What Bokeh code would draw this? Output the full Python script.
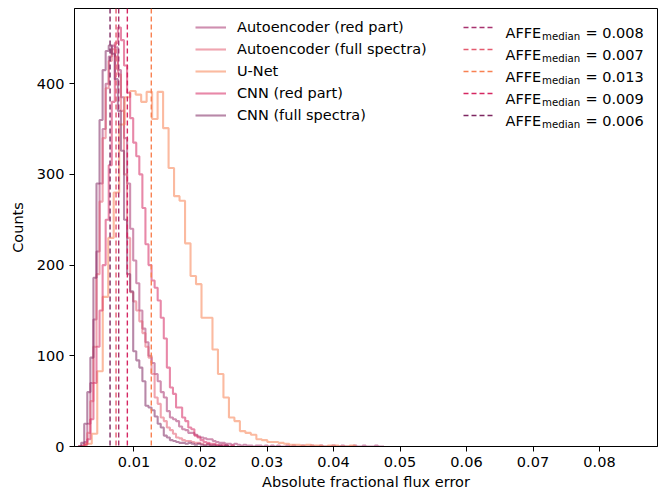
import numpy as np
from bokeh.plotting import figure
from bokeh.models import Range1d, FixedTicker, NumeralTickFormatter, Legend, LegendItem, Span
from bokeh.core.properties import value
from bokeh.embed import file_html
from bokeh.resources import INLINE

# ---------------- data ----------------
series_names = ["Autoencoder (red part)", "Autoencoder (full spectra)", "U-Net",
                "CNN (red part)", "CNN (full spectra)"]
series_colors = ["#a8336f", "#e45b6f", "#f88152", "#d52761", "#7e2761"]

# bin layout per series (first edge, bin width)
bin_start = [0.0016, 0.0016, 0.0020, 0.0016, 0.0016]
bin_width = [0.00046, 0.00046, 0.000825, 0.00046, 0.00046]

counts_ae_red = [0, 1, 5, 25, 70, 140, 215, 290, 350, 400, 430, 442, 440, 415, 385, 340,
                 290, 240, 205, 180, 150, 130, 115, 100, 92, 80, 72, 60, 54, 39, 32, 30,
                 28, 22, 19, 18, 15, 15, 13, 11, 10, 9, 8, 8, 6, 5, 4, 4, 3, 3, 2, 3, 2,
                 1, 2, 1, 1, 0, 1, 1, 0, 1, 0, 1, 0, 1, 0, 0, 1, 0, 1, 0, 0, 1, 0, 0, 1,
                 0, 0, 1, 0, 0, 0, 1, 0, 0, 1, 0, 0, 0, 1, 0, 0, 1, 0, 0, 0, 1, 0, 0]
counts_ae_full = [0, 0, 3, 15, 50, 110, 190, 270, 340, 395, 425, 438, 430, 410, 370, 300,
                  230, 170, 160, 150, 138, 125, 110, 98, 80, 54, 47, 32, 28, 21, 18, 14,
                  10, 9, 7, 6, 6, 5, 4, 4, 3, 2, 3, 1, 2, 1, 1, 0, 1]
counts_unet = [0, 3, 14, 83, 165, 230, 280, 355, 385, 392, 388, 380, 391, 361, 391, 351,
               307, 276, 271, 224, 188, 179, 142, 142, 107, 80, 54, 32, 28, 17, 15, 13,
               8, 7, 5, 5, 4, 3, 2, 2, 1, 2, 1, 1, 0, 1, 1, 0, 0, 1]
counts_cnn_red = [0, 0, 2, 8, 30, 70, 110, 150, 200, 250, 310, 380, 445, 462, 448, 420,
                  390, 362, 335, 320, 300, 263, 223, 200, 183, 175, 161, 142, 119, 87, 65,
                  58, 43, 43, 32, 28, 21, 19, 12, 10, 7, 5, 4, 3, 3, 2, 1, 2, 1, 0, 1]
counts_cnn_full = [0, 4, 25, 60, 98, 186, 290, 360, 415, 436, 442, 433, 405, 370, 326, 250,
                   190, 171, 105, 95, 87, 72, 45, 43, 40, 33, 25, 21, 12, 10, 7, 6, 5, 4,
                   4, 3, 4, 3, 2, 3, 2, 1, 2, 1, 1, 0, 1, 0, 1]
all_counts = [counts_ae_red, counts_ae_full, counts_unet, counts_cnn_red, counts_cnn_full]

median_values = [0.0077, 0.0073, 0.0126, 0.0090, 0.0064]
median_labels = ["0.008", "0.007", "0.013", "0.009", "0.006"]

x_ticks = [0.01, 0.02, 0.03, 0.04, 0.05, 0.06, 0.07, 0.08]
y_ticks = [0, 100, 200, 300, 400]

# ---------------- layout ----------------
W, H = 671, 494
FL, FR, FT, FB = 74, 657, 8, 446          # frame edges in page px
X0, X1 = 0.001053, 0.08872
Y0, Y1 = 0.0, 482.9

def px2x(px):
    return X0 + (px - FL) * (X1 - X0) / (FR - FL)

def py2y(py):
    return Y0 + (FB - py) * (Y1 - Y0) / (FB - FT)

FONT = "DejaVu Sans"
FS = "14.5px"

p = figure(width=W, height=H, output_backend="svg", toolbar_location=None,
           x_range=Range1d(X0, X1), y_range=Range1d(Y0, Y1),
           min_border_left=FL, min_border_right=W - FR,
           min_border_top=FT, min_border_bottom=H - FB)
p.xgrid.visible = False
p.ygrid.visible = False
p.outline_line_color = "black"
p.outline_line_width = 1
p.background_fill_color = "white"
p.border_fill_color = "white"

for ax in (p.xaxis[0], p.yaxis[0]):
    ax.axis_line_color = "black"
    ax.axis_line_width = 1
    ax.major_tick_in = 0
    ax.major_tick_out = 5
    ax.major_tick_line_color = "black"
    ax.minor_tick_in = 0
    ax.minor_tick_out = 0
    ax.major_label_text_font = FONT
    ax.major_label_text_font_size = FS
    ax.major_label_text_color = "black"
    ax.axis_label_text_font = FONT
    ax.axis_label_text_font_size = FS
    ax.axis_label_text_font_style = "normal"
    ax.axis_label_text_color = "black"
    ax.major_label_standoff = 5

p.xaxis.ticker = FixedTicker(ticks=x_ticks)
p.xaxis.formatter = NumeralTickFormatter(format="0.00")
p.yaxis.ticker = FixedTicker(ticks=y_ticks)
p.xaxis.axis_label = "Absolute fractional flux error"
p.yaxis.axis_label = "Counts"
p.xaxis.axis_label_standoff = 4
p.yaxis.axis_label_standoff = 8

# ---------------- histograms (step outlines) ----------------
items = []
for name, col, cnt, s, w in zip(series_names, series_colors, all_counts, bin_start, bin_width):
    cnt = np.asarray(cnt, dtype=float)
    edges = s + w * np.arange(len(cnt) + 1)
    xs = np.repeat(edges, 2)
    ys = np.concatenate([[0.0], np.repeat(cnt, 2), [0.0]])
    r = p.line(xs, ys, line_color=col, line_alpha=0.55, line_width=2.1)
    items.append(LegendItem(label=name, renderers=[r]))

# ---------------- median lines ----------------
for m, col in zip(median_values, series_colors):
    p.add_layout(Span(location=m, dimension="height", line_color=col,
                      line_width=1.4, line_dash="5 3"))

# ---------------- legend, left column ----------------
row_py = [27, 49, 71, 93, 115]
leg = Legend(items=items, location=(195 - FL, FB - (row_py[-1] + 11)),
             orientation="vertical", margin=0, padding=0, spacing=0,
             glyph_width=31, glyph_height=22, label_height=22, label_standoff=11,
             label_text_font=FONT, label_text_font_size=FS, label_text_color="black",
             background_fill_alpha=0, border_line_alpha=0)
p.add_layout(leg)

# ---------------- legend, right column (median lines) ----------------
seg_x0 = [px2x(463)] * 5
seg_x1 = [px2x(492)] * 5
seg_y = [py2y(r) for r in row_py]
p.segment(x0=seg_x0, y0=seg_y, x1=seg_x1, y1=seg_y, line_color=series_colors,
          line_width=1.4, line_dash="5 3")

base_y = [py2y(r + 5.5) for r in row_py]
sub_y = [py2y(r + 8.5) for r in row_py]
p.text(x=[px2x(505)] * 5, y=base_y, text=["AFFE"] * 5, text_font=value(FONT),
       text_font_size=value(FS), text_baseline="alphabetic", text_align="left",
       text_color="black")
p.text(x=[px2x(541.5)] * 5, y=sub_y, text=["median"] * 5, text_font=value(FONT),
       text_font_size=value("10.2px"), text_baseline="alphabetic", text_align="left",
       text_color="black")
p.text(x=[px2x(585)] * 5, y=base_y, text=["= " + t for t in median_labels],
       text_font=value(FONT), text_font_size=value(FS), text_baseline="alphabetic",
       text_align="left", text_color="black")

open("out.html", "w").write(file_html(p, INLINE))
